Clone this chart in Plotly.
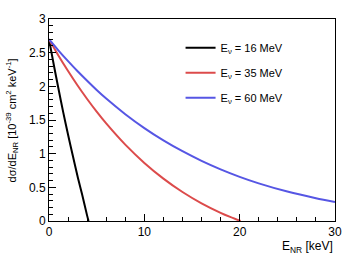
import plotly.graph_objects as go

# Data
e16_x = [0, 0.5, 1, 1.5, 2, 2.5, 3, 3.5, 4, 4.15]
e16_y = [2.70, 2.32, 1.96, 1.61, 1.28, 0.97, 0.66, 0.38, 0.08, 0.0]

e35_x = [0, 1, 2, 3, 4, 5, 6, 8, 10, 12, 14, 16, 18, 19, 20.1]
e35_y = [2.70, 2.455, 2.227, 2.012, 1.812, 1.624, 1.449, 1.134, 0.863, 0.630,
         0.431, 0.263, 0.122, 0.061, 0.0]

e60_x = [0, 1, 2, 3, 4, 5, 6, 8, 10, 12, 14, 16, 18, 20, 22, 25, 28, 30]
e60_y = [2.70, 2.531, 2.374, 2.224, 2.083, 1.946, 1.818, 1.586, 1.380, 1.197,
         1.036, 0.893, 0.767, 0.656, 0.559, 0.437, 0.338, 0.282]

names = ["E<sub>ν</sub> = 16 MeV", "E<sub>ν</sub> = 35 MeV", "E<sub>ν</sub> = 60 MeV"]
colors = ["#000000", "#dc4b4b", "#5656e4"]

fig = go.Figure()
for i, (xs, ys) in enumerate([(e16_x, e16_y), (e35_x, e35_y), (e60_x, e60_y)]):
    fig.add_trace(go.Scatter(x=xs, y=ys, mode="lines", name=names[i],
                             line=dict(color=colors[i], width=2, shape="spline",
                                       smoothing=0.8),
                             legendgroup=str(i)))

font = "Liberation Sans, Arial, Helvetica, sans-serif"
axis_common = dict(showline=True, linecolor="black", linewidth=1, mirror=True,
                   ticks="inside", tickcolor="black", showgrid=False, zeroline=False,
                   tickfont=dict(family=font, size=12, color="black"))

fig.update_layout(
    width=355, height=256,
    margin=dict(l=49, r=20, t=13, b=35),
    paper_bgcolor="white", plot_bgcolor="white",
    showlegend=True,
    legend=dict(x=0.46, y=0.93, xanchor="left", yanchor="top",
                bgcolor="rgba(0,0,0,0)", borderwidth=0,
                font=dict(family=font, size=11, color="black"),
                tracegroupgap=6, itemwidth=30),
    xaxis=dict(range=[0, 30], tickvals=[0, 10, 20, 30], ticklen=7,
               minor=dict(dtick=2, ticklen=4, ticks="inside", tickcolor="black"),
               **axis_common),
    yaxis=dict(range=[0, 3], tickvals=[0, 0.5, 1, 1.5, 2, 2.5, 3],
               ticktext=["0", "0.5", "1", "1.5", "2", "2.5", "3"], ticklen=7,
               minor=dict(dtick=0.1, ticklen=4, ticks="inside", tickcolor="black"),
               **axis_common),
    annotations=[
        dict(text="E<sub>NR</sub> [keV]", xref="paper", yref="paper", x=1.0, y=-0.08,
             xanchor="right", yanchor="top", showarrow=False,
             font=dict(family=font, size=12, color="black")),
        dict(text="dσ/dE<sub>NR</sub> [10<sup>-39</sup> cm<sup>2</sup> keV<sup>-1</sup>]",
             xref="paper", yref="paper", x=-0.128, y=0.5, xanchor="center",
             yanchor="middle", textangle=-90, showarrow=False,
             font=dict(family=font, size=11, color="black")),
    ],
)

fig.write_html("out.html", config={"displayModeBar": False},
               post_script="document.body.style.margin='0';")
